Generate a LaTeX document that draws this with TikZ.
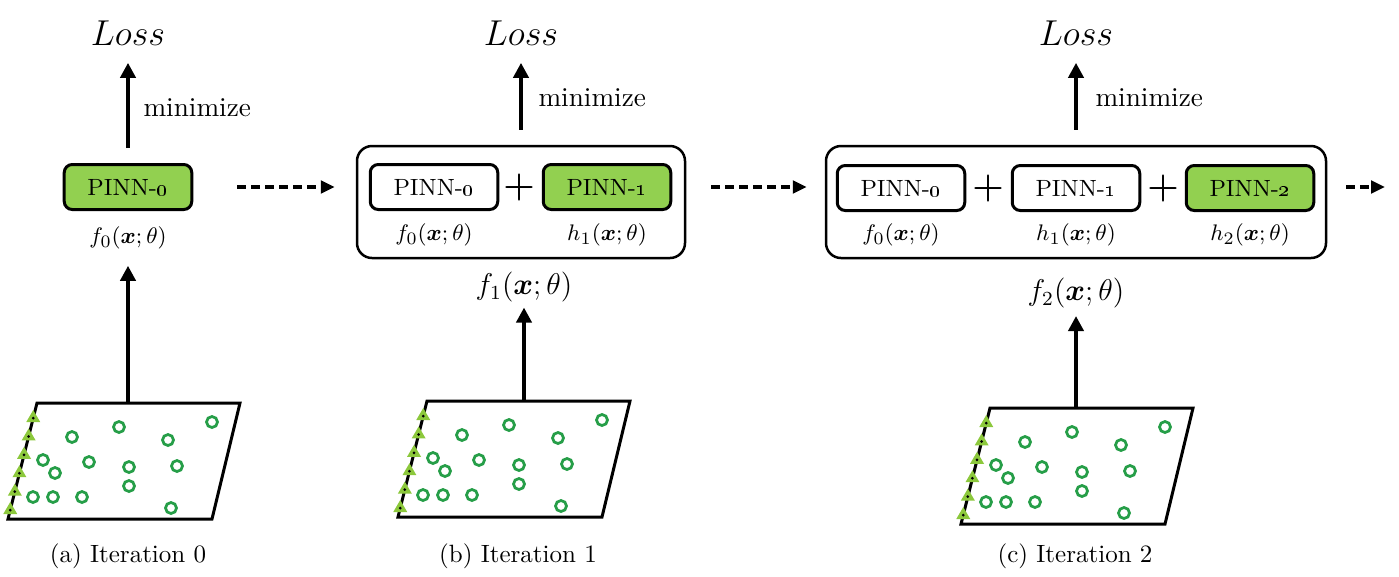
\documentclass[tikz,border=0pt]{standalone}
\usepackage{amsmath, amssymb}
\usepackage{bm}
\usetikzlibrary{arrows.meta}
\definecolor{pinngreen}{RGB}{146,208,80}
\definecolor{ptgreen}{RGB}{38,158,72}
\definecolor{bcgreen}{RGB}{140,200,60}
\tikzset{
  pinn/.style={draw, line width=1.2pt, rounded corners=3.2pt, minimum width=51pt,
    minimum height=18pt, inner sep=0pt, font=\fontsize{9.4}{11}\selectfont},
  active/.style={pinn, fill=pinngreen},
  sumbox/.style={draw, line width=1pt, rounded corners=6pt, inner sep=0pt},
  flow/.style={line width=1.6pt, -{Triangle[length=6pt,width=6pt]}},
  nextstep/.style={line width=1.6pt, dash pattern=on 3.6pt off 2pt, -{Triangle[length=5.6pt,width=5pt]}},
  losslbl/.style={inner sep=0pt, font=\fontsize{13.4}{16}\selectfont},
  minlbl/.style={inner sep=0pt, font=\fontsize{10.9}{13}\selectfont},
  fsmall/.style={inner sep=0pt, font=\fontsize{9.5}{11}\selectfont},
  fbig/.style={inner sep=0pt, font=\fontsize{11.5}{14}\selectfont},
  pluslbl/.style={inner sep=0pt, font=\fontsize{15}{17}\selectfont},
  caption/.style={inner sep=0pt, font=\fontsize{10}{12}\selectfont},
  domain/.pic={
    % collocation points
    \foreach \p in {(35,34),(82,24),(175,19),(131,37),(6,57),(18,70),(52,59),
                    (92,64),(140,63),(92,83),(-4,94),(16,94),(45,94),(134,105)}
      \draw[ptgreen, line width=1.1pt] \p circle (5.5);
    \draw[line width=1.2pt] (0,0) -- (203,0) -- (175,116) -- (-29,116) -- cycle;
    % boundary points
    \foreach \k in {0,...,5} {
      \fill[bcgreen]
        ({-0.25*(15+18.4*\k)},{15+18.4*\k}) ++(0,-8) -- ++(7,12) -- ++(-14,0) -- cycle;
      \fill ({-0.25*(15+18.4*\k)},{15+18.4*\k}) circle (1.5);
    }
  }
}

\begin{document}
\begin{tikzpicture}[x=0.4pt, y=-0.4pt]
\useasboundingbox (0,0) rectangle (1399,576);

% (a) iteration 0
\node[losslbl] (lossA) at (128,33) {$Loss$};
\node[active] (pinnA) at (128,187) {PINN-\oldstylenums{0}};
\node[fsmall] (fA) at (128,238) {$f_0(\bm{x};\theta)$};
\node[minlbl, anchor=west] (minA) at (143,108) {minimize};
\pic at (37,403) {domain};
\coordinate (domA) at (128,403);
\draw[flow, shorten <=6pt, shorten >=6.8pt] (pinnA.north) -- (lossA.south);
\draw[flow, shorten >=6.4pt] (domA) -- (fA.south);
\node[caption] (capA) at (128,556) {(a) Iteration 0};

% (b) iteration 1
\node[sumbox, minimum width=131.2pt, minimum height=44.8pt] (outerB) at (521,202) {};
\node[pinn] (pinnB0) at (434,187) {PINN-\oldstylenums{0}};
\node[pluslbl] (plusB) at (519,187) {$\bm{+}$};
\node[active] (pinnB1) at (607,187) {PINN-\oldstylenums{1}};
\node[fsmall] (fB0) at (434,235) {$f_0(\bm{x};\theta)$};
\node[fsmall] (hB1) at (607,235) {$h_1(\bm{x};\theta)$};
\node[fbig] (fB) at (524,287) {$f_1(\bm{x};\theta)$};
\node[losslbl] (lossB) at (521,33) {$Loss$};
\node[minlbl, anchor=west] (minB) at (538,98) {minimize};
\pic at (427,401) {domain};
\coordinate (domB) at (524,401);
\draw[flow, shorten <=6pt, shorten >=6.8pt] (outerB.north) -- (lossB.south);
\draw[flow, shorten >=2pt] (domB) -- (fB.south);
\node[caption] (capB) at (518,556) {(b) Iteration 1};

% (c) iteration 2
\node[sumbox, minimum width=200pt, minimum height=44.8pt] (outerC) at (1076,202) {};
\node[pinn] (pinnC0) at (901,188) {PINN-\oldstylenums{0}};
\node[pluslbl] (plusC1) at (988,188) {$\bm{+}$};
\node[pinn] (pinnC1) at (1076,188) {PINN-\oldstylenums{1}};
\node[pluslbl] (plusC2) at (1163,188) {$\bm{+}$};
\node[active] (pinnC2) at (1250,188) {PINN-\oldstylenums{2}};
\node[fsmall] (fC0) at (901,235) {$f_0(\bm{x};\theta)$};
\node[fsmall] (hC1) at (1076,235) {$h_1(\bm{x};\theta)$};
\node[fsmall] (hC2) at (1250,235) {$h_2(\bm{x};\theta)$};
\node[fbig] (fC) at (1076,293) {$f_2(\bm{x};\theta)$};
\node[losslbl] (lossC) at (1076,33) {$Loss$};
\node[minlbl, anchor=west] (minC) at (1095,98) {minimize};
\pic at (990,408) {domain};
\coordinate (domC) at (1076,408);
\draw[flow, shorten <=6pt, shorten >=6.8pt] (outerC.north) -- (lossC.south);
\draw[flow, shorten >=3pt] (domC) -- (fC.south);
\node[caption] (capC) at (1075,556) {(c) Iteration 2};

% next iterations
\coordinate (nextD) at (1385,187);
\draw[nextstep, shorten <=17.6pt, shorten >=8.4pt] (pinnA.east) -- (pinnA.east -| outerB.west);
\draw[nextstep, shorten <=10pt, shorten >=7.2pt] (outerB.east |- pinnA) -- (pinnA -| outerC.west);
\draw[nextstep, shorten <=7.6pt] (outerC.east |- nextD) -- (nextD);
\end{tikzpicture}
\end{document}
